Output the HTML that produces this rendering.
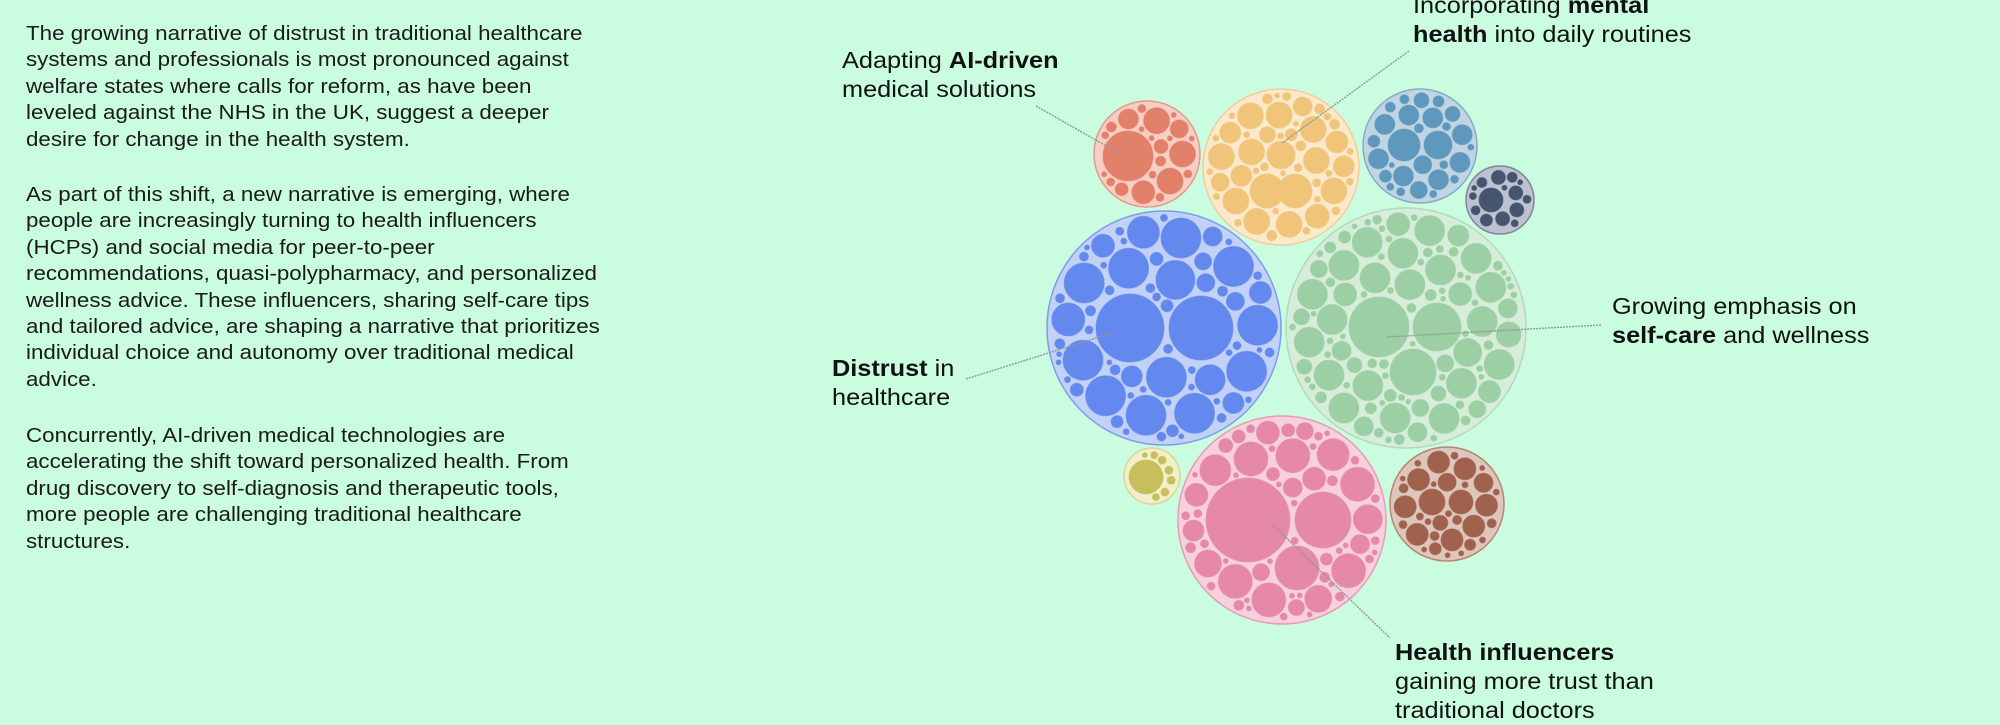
<!DOCTYPE html>
<html><head><meta charset="utf-8"><style>
html,body{margin:0;padding:0}
body{width:2000px;height:715px;background:#cafce0;position:relative;overflow:hidden;font-family:"Liberation Sans",sans-serif;color:#1a1a1a}
.p{position:absolute;left:26px;font-size:20.5px;line-height:26.4px;white-space:nowrap;transform:scaleX(1.09);transform-origin:0 0}
.l{position:absolute;font-size:23px;line-height:29px;white-space:nowrap;transform:scaleX(1.1);transform-origin:0 0;color:#111}
svg{position:absolute;left:0;top:0}
</style></head><body>
<div class="p" style="top:21px">The growing narrative of distrust in traditional healthcare<br>systems and professionals is most pronounced against<br>welfare states where calls for reform, as have been<br>leveled against the NHS in the UK, suggest a deeper<br>desire for change in the health system.</div>
<div class="p" style="top:182px">As part of this shift, a new narrative is emerging, where<br>people are increasingly turning to health influencers<br>(HCPs) and social media for peer-to-peer<br>recommendations, quasi-polypharmacy, and personalized<br>wellness advice. These influencers, sharing self-care tips<br>and tailored advice, are shaping a narrative that prioritizes<br>individual choice and autonomy over traditional medical<br>advice.</div>
<div class="p" style="top:423px">Concurrently, AI-driven medical technologies are<br>accelerating the shift toward personalized health. From<br>drug discovery to self-diagnosis and therapeutic tools,<br>more people are challenging traditional healthcare<br>structures.</div>

<svg id="s" width="2000" height="715" viewBox="0 0 2000 715"></svg>

<div class="l" style="left:842px;top:46px">Adapting <b>AI-driven</b><br>medical solutions</div>
<div class="l" style="left:1413px;top:-9px">Incorporating <b>mental</b><br><b>health</b> into daily routines</div>
<div class="l" style="left:1612px;top:292px">Growing emphasis on<br><b>self-care</b> and wellness</div>
<div class="l" style="left:832px;top:354px"><b>Distrust</b> in<br>healthcare</div>
<div class="l" style="left:1395px;top:638px"><b>Health influencers</b><br>gaining more trust than<br>traditional doctors</div>

<script>
var s=document.getElementById('s'),NS='http://www.w3.org/2000/svg';
function el(t,a){var e=document.createElementNS(NS,t);for(var k in a)e.setAttribute(k,a[k]);s.appendChild(e);return e;}
var seed=7;function rnd(){seed=(seed*16807)%2147483647;return (seed-1)/2147483646;}
var P=[
 {x:1147,y:154,r:53,pf:'#f6cfc4',ps:'#e39a88',f:'#e3806a',big:[[-19,2,25]],max:13},
 {x:1281,y:167,r:78,pf:'#fbe9cc',ps:'#efcf97',f:'#f0c57a',big:[[-14,24,17],[14,24,17],[0,-12,14]],max:13},
 {x:1420,y:146,r:57,pf:'#bfd6e2',ps:'#86acc6',f:'#5f98bd',big:[[-16,-1,16],[18,-1,14]],max:10},
 {x:1500,y:200,r:34,pf:'#bcc2cf',ps:'#7d869b',f:'#46546f',big:[[-9,0,12]],max:7},
 {x:1164,y:328,r:117,pf:'#c2d2f6',ps:'#7e9cee',f:'#6388ee',big:[[-34,0,34],[37,0,32]],max:20},
 {x:1406,y:328,r:120,pf:'#d6edda',ps:'#b4d9bb',f:'#9dcfa4',big:[[-27,-1,30],[31,-1,24],[7,44,23]],max:15},
 {x:1282,y:520,r:104,pf:'#f6d1dd',ps:'#e99ab4',f:'#e689a8',big:[[-34,0,42],[41,0,28],[15,48,22]],max:17},
 {x:1152,y:476,r:28,pf:'#f2f0cb',ps:'#ddd68f',f:'#c6bf5c',big:[[-6,1,17]],max:4},
 {x:1447,y:504,r:57,pf:'#ddc6bc',ps:'#b98573',f:'#a0614d',big:[[-15,-2,13],[14,-2,12]],max:11}
];
P.forEach(function(p){
 el('circle',{cx:p.x,cy:p.y,r:p.r,fill:p.pf,stroke:p.ps,'stroke-width':1.5});
 var cs=[];
 p.big.forEach(function(b){cs.push([p.x+b[0],p.y+b[1],b[2]]);});
 for(var r=p.max;r>=2.5;r-=0.5){
   var fails=0;
   while(fails<600){
     var a=rnd()*6.2832,d=Math.sqrt(rnd())*(p.r-r-3);
     var cx=p.x+Math.cos(a)*d,cy=p.y+Math.sin(a)*d,ok=true;
     for(var i=0;i<cs.length;i++){var c=cs[i],dx=c[0]-cx,dy=c[1]-cy;if(dx*dx+dy*dy<(c[2]+r+1.8)*(c[2]+r+1.8)){ok=false;break;}}
     if(ok){cs.push([cx,cy,r]);fails=0;}else fails++;
   }
 }
 cs.forEach(function(c){el('circle',{cx:c[0].toFixed(1),cy:c[1].toFixed(1),r:c[2],fill:p.f,stroke:p.f,'stroke-opacity':0.6,'stroke-width':1});});
});
[[1036,106,1122,155],[1409,51,1282,143],[1601,325,1387,337],[966,379,1115,332],[1273,525,1390,638]].forEach(function(l){
 el('line',{x1:l[0],y1:l[1],x2:l[2],y2:l[3],stroke:'#8f9a94','stroke-width':1.4,'stroke-dasharray':'2 1'});
});
</script>
</body></html>
